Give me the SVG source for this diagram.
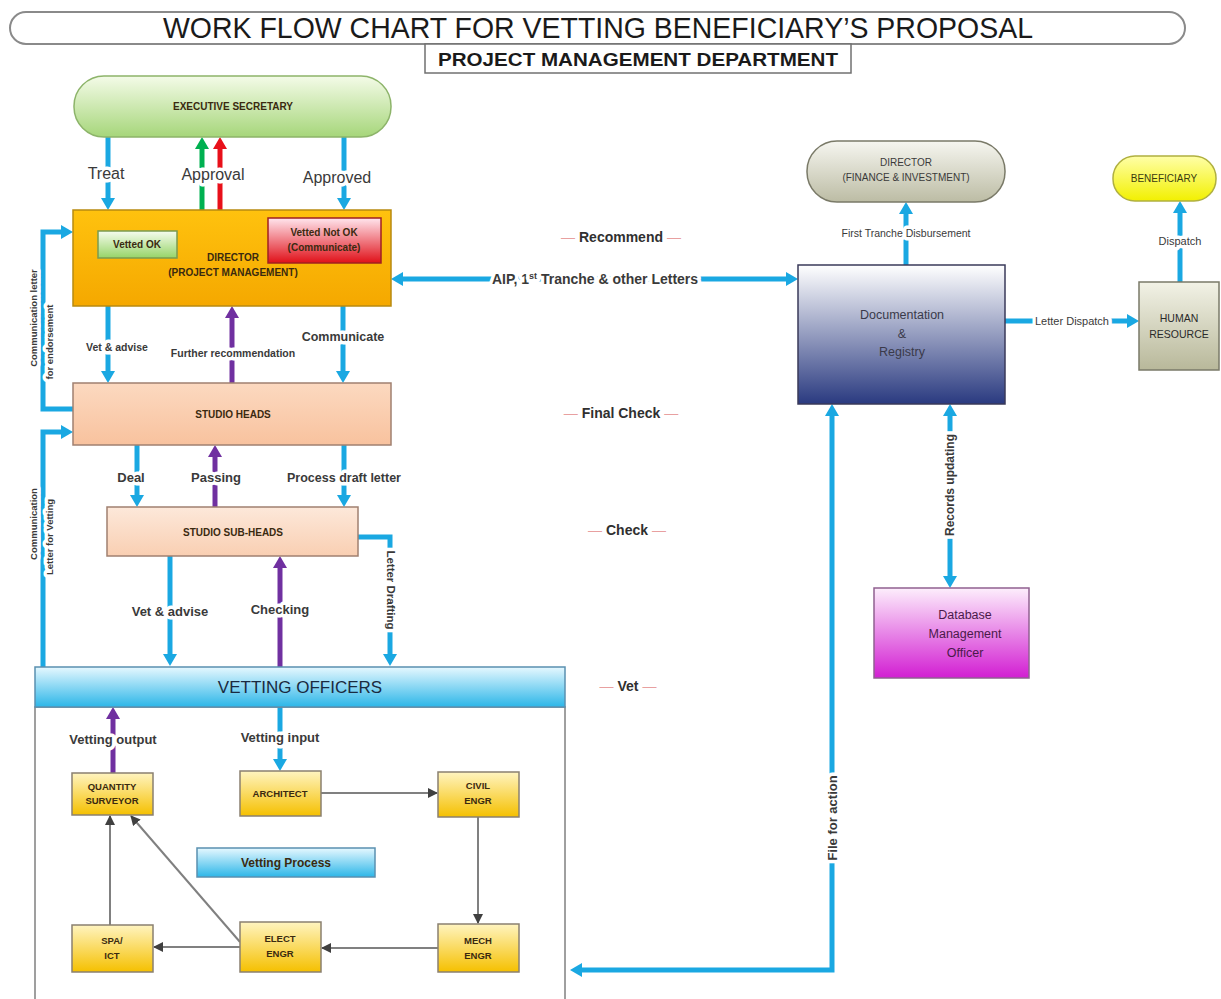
<svg xmlns="http://www.w3.org/2000/svg" width="1221" height="999" viewBox="0 0 1221 999">
<defs>
<style>
text{font-family:"Liberation Sans",Arial,sans-serif;}
.lb{fill:#3a3a3a;font-weight:bold;text-anchor:middle;paint-order:stroke;stroke:#fff;stroke-width:7px;stroke-linejoin:round;}
.lbn{fill:#3a3a3a;text-anchor:middle;paint-order:stroke;stroke:#fff;stroke-width:7px;stroke-linejoin:round;}
.nt{font-weight:bold;text-anchor:middle;fill:#3a2a10;}
.cb{fill:none;stroke:#1aa8e2;stroke-width:5;}
.cp{fill:none;stroke:#7030a0;stroke-width:5;}
.cg{fill:none;stroke:#808080;stroke-width:2;}
.ph{font-weight:bold;font-size:14px;fill:#303030;text-anchor:middle;}
.dash{fill:#e8a0a0;font-weight:normal;}
.box{stroke-width:1.5;}
</style>
<marker id="ab" viewBox="0 0 12 14" refX="5" refY="7" markerWidth="12" markerHeight="14" markerUnits="userSpaceOnUse" orient="auto-start-reverse"><path d="M0,0 L12,7 L0,14 z" fill="#1aa8e2"/></marker>
<marker id="ap" viewBox="0 0 12 14" refX="5" refY="7" markerWidth="12" markerHeight="14" markerUnits="userSpaceOnUse" orient="auto-start-reverse"><path d="M0,0 L12,7 L0,14 z" fill="#7030a0"/></marker>
<marker id="agn" viewBox="0 0 12 14" refX="5" refY="7" markerWidth="12" markerHeight="14" markerUnits="userSpaceOnUse" orient="auto-start-reverse"><path d="M0,0 L12,7 L0,14 z" fill="#00b050"/></marker>
<marker id="ar" viewBox="0 0 12 14" refX="5" refY="7" markerWidth="12" markerHeight="14" markerUnits="userSpaceOnUse" orient="auto-start-reverse"><path d="M0,0 L12,7 L0,14 z" fill="#e8101a"/></marker>
<marker id="ag" viewBox="0 0 10 10" refX="9" refY="5" markerWidth="10" markerHeight="10" markerUnits="userSpaceOnUse" orient="auto"><path d="M0,0 L10,5 L0,10 z" fill="#404040"/></marker>
<linearGradient id="gGreen" x1="0" y1="0" x2="0" y2="1"><stop offset="0" stop-color="#f4fbe8"/><stop offset="1" stop-color="#a6d67a"/></linearGradient>
<linearGradient id="gOrange" x1="0" y1="0" x2="0" y2="1"><stop offset="0" stop-color="#ffc20e"/><stop offset="1" stop-color="#f5a800"/></linearGradient>
<linearGradient id="gOk" x1="0" y1="0" x2="0" y2="1"><stop offset="0" stop-color="#f6fcee"/><stop offset="1" stop-color="#96d468"/></linearGradient>
<linearGradient id="gNot" x1="0" y1="0" x2="0" y2="1"><stop offset="0" stop-color="#ffe6ee"/><stop offset="1" stop-color="#e01018"/></linearGradient>
<linearGradient id="gPeach" x1="0" y1="0" x2="0" y2="1"><stop offset="0" stop-color="#fcd9c0"/><stop offset="1" stop-color="#f8c29e"/></linearGradient>
<linearGradient id="gPeach2" x1="0" y1="0" x2="0" y2="1"><stop offset="0" stop-color="#fde8da"/><stop offset="1" stop-color="#f9cfb2"/></linearGradient>
<linearGradient id="gCyan" x1="0" y1="0" x2="0" y2="1"><stop offset="0" stop-color="#e6f8ff"/><stop offset="1" stop-color="#2cb6e8"/></linearGradient>
<linearGradient id="gYellow" x1="0" y1="0" x2="0" y2="1"><stop offset="0" stop-color="#fff4c0"/><stop offset="1" stop-color="#f5c000"/></linearGradient>
<linearGradient id="gNavy" x1="0" y1="0" x2="0" y2="1"><stop offset="0" stop-color="#ffffff"/><stop offset="1" stop-color="#2a3a80"/></linearGradient>
<linearGradient id="gGrey" x1="0" y1="0" x2="0" y2="1"><stop offset="0" stop-color="#f6f6f0"/><stop offset="1" stop-color="#bcbca4"/></linearGradient>
<linearGradient id="gBen" x1="0" y1="0" x2="0" y2="1"><stop offset="0" stop-color="#ffffa8"/><stop offset="1" stop-color="#f2f000"/></linearGradient>
<linearGradient id="gKhaki" x1="0" y1="0" x2="0" y2="1"><stop offset="0" stop-color="#f2f2e6"/><stop offset="1" stop-color="#b8b89a"/></linearGradient>
<linearGradient id="gMag" x1="0" y1="0" x2="0" y2="1"><stop offset="0" stop-color="#fdeefc"/><stop offset="1" stop-color="#d21ed2"/></linearGradient>
</defs>
<rect width="1221" height="999" fill="#ffffff"/>

<g id="title">
<rect x="10" y="12" width="1175" height="32" rx="16" fill="#ffffff" stroke="#8a8a8a" stroke-width="2"/>
<text x="598" y="38" font-size="29" fill="#1a1a1a" text-anchor="middle" textLength="870" lengthAdjust="spacingAndGlyphs">WORK FLOW CHART FOR VETTING BENEFICIARY’S PROPOSAL</text>
</g>
<g id="subtitle">
<rect x="425" y="44" width="426" height="29" fill="#ffffff" stroke="#707070" stroke-width="1.5"/>
<text x="638" y="66" font-size="18" font-weight="bold" fill="#1a1a1a" text-anchor="middle" textLength="400" lengthAdjust="spacingAndGlyphs">PROJECT MANAGEMENT DEPARTMENT</text>
</g>

<g id="connectors">
<!-- Executive Secretary <-> Director PM -->
<path id="c-treat" class="cb" d="M108,137 L108,203" marker-end="url(#ab)"/>
<path id="c-approved" class="cb" d="M344,137 L344,203" marker-end="url(#ab)"/>
<path id="c-approval-g" fill="none" stroke="#00b050" stroke-width="5" d="M202,210 L202,144" marker-end="url(#agn)"/>
<path id="c-approval-r" fill="none" stroke="#e8101a" stroke-width="5" d="M220,210 L220,144" marker-end="url(#ar)"/>
<!-- Director <-> Studio heads -->
<path id="c-vet1" class="cb" d="M108,306 L108,376" marker-end="url(#ab)"/>
<path id="c-further" class="cp" d="M232,383 L232,313" marker-end="url(#ap)"/>
<path id="c-communicate" class="cb" d="M343,306 L343,376" marker-end="url(#ab)"/>
<!-- Studio heads <-> sub-heads -->
<path id="c-deal" class="cb" d="M137,445 L137,500" marker-end="url(#ab)"/>
<path id="c-passing" class="cp" d="M215,507 L215,452" marker-end="url(#ap)"/>
<path id="c-process" class="cb" d="M344,445 L344,500" marker-end="url(#ab)"/>
<!-- sub-heads <-> vetting officers -->
<path id="c-drafting" class="cb" d="M358,537 L390,537 L390,659" marker-end="url(#ab)"/>
<path id="c-vet2" class="cb" d="M170,556 L170,659" marker-end="url(#ab)"/>
<path id="c-checking" class="cp" d="M280,667 L280,563" marker-end="url(#ap)"/>
<!-- left side -->
<path id="c-endorse" class="cb" d="M73,409 L43,409 L43,232 L66,232" marker-end="url(#ab)"/>
<path id="c-commvet" class="cb" d="M43,667 L43,432 L66,432" marker-end="url(#ab)"/>
<!-- inside vetting -->
<path id="c-vout" class="cp" d="M113,773 L113,714" marker-end="url(#ap)"/>
<path id="c-vin" class="cb" d="M280,707 L280,764" marker-end="url(#ab)"/>
<path class="cg" d="M321,793 L437,793" marker-end="url(#ag)"/>
<path class="cg" d="M478,817 L478,923" marker-end="url(#ag)"/>
<path class="cg" d="M438,948 L322,948" marker-end="url(#ag)"/>
<path class="cg" d="M240,947 L154,947" marker-end="url(#ag)"/>
<path class="cg" d="M110,925 L110,816" marker-end="url(#ag)"/>
<path class="cg" d="M240,942 L131,816" marker-end="url(#ag)"/>
<!-- right side -->
<path id="c-aip" class="cb" d="M398,279 L791,279" marker-start="url(#ab)" marker-end="url(#ab)"/>
<path id="c-tranche" class="cb" d="M906,265 L906,209" marker-end="url(#ab)"/>
<path id="c-letterdispatch" class="cb" d="M1005,321 L1132,321" marker-end="url(#ab)"/>
<path id="c-dispatch" class="cb" d="M1180,282 L1180,208" marker-end="url(#ab)"/>
<path id="c-records" class="cb" d="M950,411 L950,581" marker-start="url(#ab)" marker-end="url(#ab)"/>
<path id="c-file" class="cb" d="M832,411 L832,970 L577,970" marker-start="url(#ab)" marker-end="url(#ab)"/>

<!-- labels -->
<text class="lbn" x="106" y="179" font-size="16">Treat</text>
<text class="lbn" x="213" y="180" font-size="16">Approval</text>
<text class="lbn" x="337" y="183" font-size="16">Approved</text>
<text class="lb" x="117" y="351" font-size="10.5">Vet &amp; advise</text>
<text class="lb" x="233" y="357" font-size="10.5">Further recommendation</text>
<text class="lb" x="343" y="341" font-size="12.5">Communicate</text>
<text class="lb" x="131" y="482" font-size="13">Deal</text>
<text class="lb" x="216" y="482" font-size="13">Passing</text>
<text class="lb" x="344" y="482" font-size="12.5">Process draft letter</text>
<text class="lb" x="170" y="616" font-size="13">Vet &amp; advise</text>
<text class="lb" x="280" y="614" font-size="13">Checking</text>
<text class="lb" x="113" y="744" font-size="13">Vetting output</text>
<text class="lb" x="280" y="742" font-size="13">Vetting input</text>
<text class="lb" font-size="11.5" transform="translate(387,590) rotate(90)">Letter Drafting</text>
<text class="lb" x="595" y="284" font-size="14">AIP, 1<tspan font-size="9" dy="-5">st</tspan><tspan dy="5"> Tranche &amp; other Letters</tspan></text>
<text class="lbn" x="906" y="237" font-size="10.5">First Tranche Disbursement</text>
<text class="lbn" x="1072" y="325" font-size="11">Letter Dispatch</text>
<text class="lbn" x="1180" y="245" font-size="11">Dispatch</text>
<text class="lb" font-size="12" transform="translate(954,485) rotate(-90)">Records updating</text>
<text class="lb" font-size="13" transform="translate(837,818) rotate(-90)">File for action</text>
<text class="lb" font-size="9.5" transform="translate(37,318) rotate(-90)">Communication letter</text>
<text class="lb" font-size="9.5" transform="translate(53,342) rotate(-90)">for endorsement</text>
<text class="lb" font-size="9.5" transform="translate(37,524) rotate(-90)">Communication</text>
<text class="lb" font-size="9.5" transform="translate(53,537) rotate(-90)">Letter for Vetting</text>
</g>

<g id="phases">
<text class="ph" x="621" y="242"><tspan class="dash">— </tspan>Recommend<tspan class="dash"> —</tspan></text>
<text class="ph" x="621" y="418"><tspan class="dash">— </tspan>Final Check<tspan class="dash"> —</tspan></text>
<text class="ph" x="627" y="535"><tspan class="dash">— </tspan>Check<tspan class="dash"> —</tspan></text>
<text class="ph" x="628" y="691"><tspan class="dash">— </tspan>Vet<tspan class="dash"> —</tspan></text>
</g>

<g id="executive-secretary">
<rect class="box" x="74" y="76" width="317" height="61" rx="30" fill="url(#gGreen)" stroke="#8db46a"/>
<text class="nt" x="233" y="110" font-size="10" fill="#3a3a10">EXECUTIVE SECRETARY</text>
</g>

<g id="director-pm">
<rect class="box" x="73" y="210" width="318" height="96" fill="url(#gOrange)" stroke="#b88a10"/>
<text class="nt" x="233" y="261" font-size="10">DIRECTOR</text>
<text class="nt" x="233" y="276" font-size="10">(PROJECT MANAGEMENT)</text>
</g>
<g id="vetted-ok">
<rect class="box" x="98" y="231" width="79" height="27" fill="url(#gOk)" stroke="#7a9a50"/>
<text class="nt" x="137" y="248" font-size="10" fill="#2a3a20">Vetted OK</text>
</g>
<g id="vetted-not-ok">
<rect class="box" x="268" y="218" width="113" height="45" fill="url(#gNot)" stroke="#a02020"/>
<text class="nt" x="324" y="236" font-size="10" fill="#4a2030">Vetted Not OK</text>
<text class="nt" x="324" y="251" font-size="10" fill="#4a2030">(Communicate)</text>
</g>

<g id="studio-heads">
<rect class="box" x="73" y="383" width="318" height="62" fill="url(#gPeach)" stroke="#a08070"/>
<text class="nt" x="233" y="418" font-size="10">STUDIO HEADS</text>
</g>

<g id="studio-sub-heads">
<rect class="box" x="107" y="507" width="251" height="49" fill="url(#gPeach2)" stroke="#a08070"/>
<text class="nt" x="233" y="536" font-size="10">STUDIO SUB-HEADS</text>
</g>

<g id="vetting-officers">
<rect x="35" y="707" width="530" height="300" fill="none" stroke="#808080" stroke-width="1.5"/>
<rect class="box" x="35" y="667" width="530" height="40" fill="url(#gCyan)" stroke="#5a90b0"/>
<text x="300" y="693" font-size="17" fill="#1a2a40" text-anchor="middle">VETTING OFFICERS</text>
</g>

<g id="quantity-surveyor">
<rect class="box" x="72" y="773" width="81" height="42" fill="url(#gYellow)" stroke="#8a8070"/>
<text class="nt" x="112" y="790" font-size="9.5">QUANTITY</text>
<text class="nt" x="112" y="804" font-size="9.5">SURVEYOR</text>
</g>
<g id="architect">
<rect class="box" x="240" y="771" width="81" height="45" fill="url(#gYellow)" stroke="#8a8070"/>
<text class="nt" x="280" y="797" font-size="9.5">ARCHITECT</text>
</g>
<g id="civil-engr">
<rect class="box" x="438" y="772" width="81" height="45" fill="url(#gYellow)" stroke="#8a8070"/>
<text class="nt" x="478" y="789" font-size="9.5">CIVIL</text>
<text class="nt" x="478" y="804" font-size="9.5">ENGR</text>
</g>
<g id="vetting-process">
<rect class="box" x="197" y="848" width="178" height="29" fill="url(#gCyan)" stroke="#5a90b0"/>
<text class="nt" x="286" y="867" font-size="12" fill="#1a3a50">Vetting Process</text>
</g>
<g id="spa-ict">
<rect class="box" x="72" y="925" width="81" height="47" fill="url(#gYellow)" stroke="#8a8070"/>
<text class="nt" x="112" y="944" font-size="9.5">SPA/</text>
<text class="nt" x="112" y="959" font-size="9.5">ICT</text>
</g>
<g id="elect-engr">
<rect class="box" x="240" y="922" width="81" height="50" fill="url(#gYellow)" stroke="#8a8070"/>
<text class="nt" x="280" y="942" font-size="9.5">ELECT</text>
<text class="nt" x="280" y="957" font-size="9.5">ENGR</text>
</g>
<g id="mech-engr">
<rect class="box" x="438" y="924" width="81" height="48" fill="url(#gYellow)" stroke="#8a8070"/>
<text class="nt" x="478" y="944" font-size="9.5">MECH</text>
<text class="nt" x="478" y="959" font-size="9.5">ENGR</text>
</g>

<g id="director-finance">
<rect class="box" x="807" y="141" width="198" height="61" rx="30" fill="url(#gGrey)" stroke="#7a7a68"/>
<text x="906" y="166" font-size="10" fill="#3a3a3a" text-anchor="middle">DIRECTOR</text>
<text x="906" y="181" font-size="10" fill="#3a3a3a" text-anchor="middle">(FINANCE &amp; INVESTMENT)</text>
</g>

<g id="beneficiary">
<rect class="box" x="1113" y="156" width="103" height="45" rx="22" fill="url(#gBen)" stroke="#b0b040"/>
<text x="1164" y="182" font-size="10" fill="#3a3a10" text-anchor="middle">BENEFICIARY</text>
</g>

<g id="documentation-registry">
<rect class="box" x="798" y="265" width="207" height="139" fill="url(#gNavy)" stroke="#3a3a5a"/>
<text x="902" y="319" font-size="12.5" fill="#3a3a4a" text-anchor="middle">Documentation</text>
<text x="902" y="338" font-size="12.5" fill="#3a3a4a" text-anchor="middle">&amp;</text>
<text x="902" y="356" font-size="12.5" fill="#3a3a4a" text-anchor="middle">Registry</text>
</g>

<g id="human-resource">
<rect class="box" x="1139" y="282" width="80" height="88" fill="url(#gKhaki)" stroke="#7a7a68"/>
<text x="1179" y="322" font-size="10.5" fill="#2a2a2a" text-anchor="middle">HUMAN</text>
<text x="1179" y="338" font-size="10.5" fill="#2a2a2a" text-anchor="middle">RESOURCE</text>
</g>

<g id="database-officer">
<rect class="box" x="874" y="588" width="155" height="90" fill="url(#gMag)" stroke="#906090"/>
<text x="965" y="619" font-size="12.5" fill="#4a1a4a" text-anchor="middle">Database</text>
<text x="965" y="638" font-size="12.5" fill="#4a1a4a" text-anchor="middle">Management</text>
<text x="965" y="657" font-size="12.5" fill="#4a1a4a" text-anchor="middle">Officer</text>
</g>
</svg>
